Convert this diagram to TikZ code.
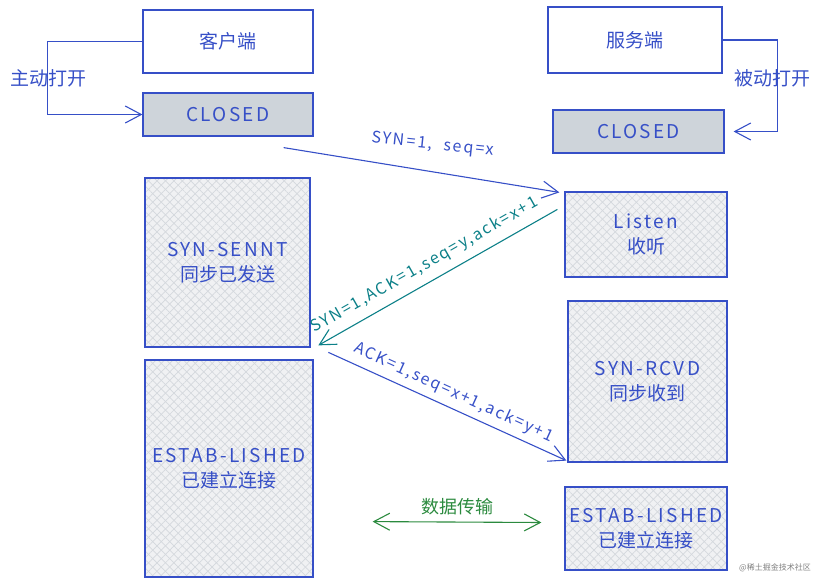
\documentclass[tikz,border=0pt]{standalone}
\usepackage{fontspec}
\setmainfont{Noto Sans CJK SC}
\newfontfamily\handfont[LetterSpace=12]{Noto Sans CJK SC}
\usepackage{tikz}
\usetikzlibrary{arrows.meta,patterns.meta,calc}
\definecolor{skblue}{RGB}{54,79,199}
\definecolor{skteal}{RGB}{12,128,136}
\definecolor{skgreen}{RGB}{43,138,62}
\definecolor{skgrey}{RGB}{206,212,218}
\definecolor{skhatch}{RGB}{212,216,221}
\newcommand{\hw}[1]{{\handfont\fontsize{19}{25}\selectfont #1}}

\begin{document}
\begin{tikzpicture}[
    x=1pt, y=-1pt,
    box/.style={rectangle, draw=skblue, line width=1.2pt, text=skblue, inner sep=0pt, align=center, font=\fontsize{19}{25}\selectfont},
    closedbox/.style={box, fill=skgrey},
    hatchbox/.style={box, preaction={fill=skhatch!35},
        preaction={pattern={Lines[angle=45,distance=6pt,line width=0.7pt]}, pattern color=skhatch},
        pattern={Lines[angle=-45,distance=6pt,line width=0.7pt]}, pattern color=skhatch},
    arrow/.style={-{Straight Barb[length=16pt,width=17pt]}, line width=1.1pt, skblue},
    side/.style={text=skblue, font=\fontsize{19}{22}\selectfont},
    msg/.style={font=\handfont\fontsize{16}{18}\selectfont}
]
\useasboundingbox (0,0) rectangle (822,584);

% Client
\node[box, minimum width=170, minimum height=63] (client) at (228,41.5) {客户端};
\node[closedbox, minimum width=170, minimum height=43] (cclosed) at (228,114.5) {\hw{CLOSED}};
\node[hatchbox, minimum width=165, minimum height=169] (synsent) at (227.5,262.5) {\hw{SYN-SENNT}\\同步已发送};
\node[hatchbox, minimum width=168, minimum height=217] (cestab) at (229,468.5) {\hw{ESTAB-LISHED}\\已建立连接};

% Server
\node[box, minimum width=174, minimum height=66] (server) at (635,40) {服务端};
\node[closedbox, minimum width=171, minimum height=43] (sclosed) at (638.5,131.5) {\hw{CLOSED}};
\node[hatchbox, minimum width=162, minimum height=85] (listen) at (646,234.5) {\hw{Listen}\\收听};
\node[hatchbox, minimum width=159, minimum height=161] (synrcvd) at (647.5,381.5) {\hw{SYN-RCVD}\\同步收到};
\node[hatchbox, minimum width=162, minimum height=83] (sestab) at (646,528.5) {\hw{ESTAB-LISHED}\\已建立连接};

% Open
\draw[arrow] (client.west) -- ++(-95,0) |- (cclosed.west);
\node[side] (active) at (48,78) {主动打开};
\draw[arrow, shorten >=9pt] (server.east) -- ++(55,0) |- (sclosed.east);
\node[side] (passive) at (772,78) {被动打开};

% Handshake
\draw[arrow] ($(cclosed.south east)+(-30,11)$) -- ($(listen.north west)+(-5,1)$);
\node[msg, text=skblue, rotate=-6] (syn) at (433,145) {SYN=1,\ \ seq=x};
\draw[arrow, skteal] ($(listen.north west)+(-7,18)$) -- node[msg, sloped, above=5pt, pos=0.52, text=skteal] (synack) {SYN=1,ACK=1,seq=y,ack=x+1} ($(synsent.south east)+(8,-2)$);
\draw[arrow] ($(synsent.south east)+(18,5)$) -- node[msg, sloped, above=3pt, text=skblue] (ack) {ACK=1,seq=x+1,ack=y+1} ($(synrcvd.south west)+(-1,-2)$);

% Data
\draw[{Straight Barb[length=16pt,width=17pt]}-{Straight Barb[length=16pt,width=17pt]}, line width=1.1pt, skgreen] ($(cestab.south east)+(59,-56)$) -- node[above=3pt, text=skgreen, font=\fontsize{18}{20}\selectfont] (data) {数据传输} ($(sestab.west)+(-23,-6)$);

\node[text=gray, font=\fontsize{8}{10}\selectfont] (mark) at (775,568) {@稀土掘金技术社区};

\end{tikzpicture}
\end{document}
